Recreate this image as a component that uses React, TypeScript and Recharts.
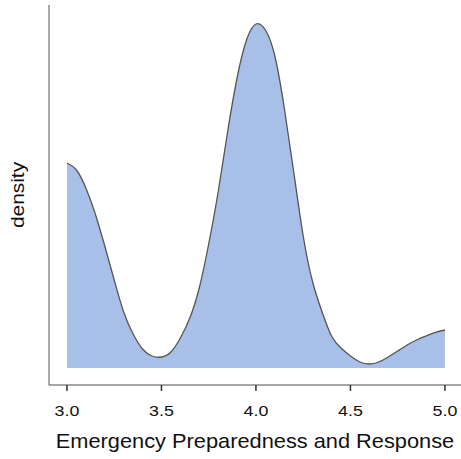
import React from "react";
import { AreaChart, Area, XAxis, YAxis } from "recharts";

// Kernel density estimate, sampled every 0.05 on the score scale
const scores = [
  3.0, 3.05, 3.1, 3.15, 3.2, 3.25, 3.3, 3.35, 3.4, 3.45, 3.5, 3.55, 3.6, 3.65,
  3.7, 3.75, 3.8, 3.85, 3.9, 3.95, 4.0, 4.05, 4.1, 4.15, 4.2, 4.25, 4.3, 4.35,
  4.4, 4.45, 4.5, 4.55, 4.6, 4.65, 4.7, 4.75, 4.8, 4.85, 4.9, 4.95, 5.0,
];
const densities = [
  1.025, 0.99, 0.9, 0.77, 0.61, 0.44, 0.28, 0.17, 0.095, 0.06, 0.055, 0.08,
  0.15, 0.25, 0.4, 0.62, 0.88, 1.18, 1.45, 1.64, 1.72, 1.69, 1.56, 1.3, 0.98,
  0.66, 0.43, 0.28, 0.16, 0.1, 0.06, 0.03, 0.02, 0.03, 0.055, 0.085, 0.115,
  0.14, 0.16, 0.178, 0.19,
];
const xTicks = [3.0, 3.5, 4.0, 4.5, 5.0];
const xTitle = "Emergency Preparedness and Response";
const yTitle = "density";

const data = scores.map((s, i) => ({ score: s, density: densities[i] }));

const FONT = "'Liberation Sans', Arial, sans-serif";

const XTick = (props: any) => {
  const { x, y, payload } = props;
  return (
    <g transform={`translate(${x},${y}) scale(1.15,1)`}>
      <text
        x={0}
        y={0}
        dy={11}
        textAnchor="middle"
        fontSize={15.5}
        fontFamily={FONT}
        fill="#111"
      >
        {Number(payload.value).toFixed(1)}
      </text>
    </g>
  );
};

const XTitle = (props: any) => {
  const vb = props.viewBox;
  const cx = vb.x + vb.width / 2;
  return (
    <g transform={`translate(${cx},${vb.y + 63}) scale(1.09,1)`}>
      <text x={0} y={0} textAnchor="middle" fontSize={20} fontFamily={FONT} fill="#111">
        {xTitle}
      </text>
    </g>
  );
};

const YTitle = (props: any) => {
  const vb = props.viewBox;
  const cy = vb.y + vb.height / 2;
  const bx = 24;
  return (
    <g transform={`translate(${bx},${cy}) rotate(-90) scale(1.1,1)`}>
      <text x={0} y={0} textAnchor="middle" fontSize={19} fontFamily={FONT} fill="#111">
        {yTitle}
      </text>
    </g>
  );
};

export default function App() {
  return (
    <div
      style={{
        position: "absolute",
        left: 0,
        top: 0,
        width: 461,
        height: 459,
        background: "#fff",
        overflow: "hidden",
      }}
    >
      <AreaChart
        width={461}
        height={459}
        data={data}
        margin={{ top: 5, right: 0, bottom: 0, left: 0 }}
      >
        <XAxis
          dataKey="score"
          type="number"
          domain={[2.905, 5.085]}
          ticks={xTicks}
          allowDataOverflow
          height={74}
          tickSize={6}
          tickMargin={14}
          tickLine={{ stroke: "#333", strokeWidth: 1.5 }}
          axisLine={{ stroke: "#8a8a8a", strokeWidth: 1.5 }}
          tick={<XTick />}
          interval={0}
          label={<XTitle />}
        />
        <YAxis
          type="number"
          domain={[-0.085, 1.815]}
          allowDataOverflow
          width={49}
          tick={false}
          tickLine={false}
          axisLine={{ stroke: "#8a8a8a", strokeWidth: 1.5 }}
          label={<YTitle />}
        />
        <Area
          type="natural"
          dataKey="density"
          baseValue={0}
          stroke="#555"
          strokeWidth={1.3}
          fill="#a8c0e7"
          fillOpacity={1}
          isAnimationActive={false}
          dot={false}
          activeDot={false}
        />
      </AreaChart>
    </div>
  );
}
